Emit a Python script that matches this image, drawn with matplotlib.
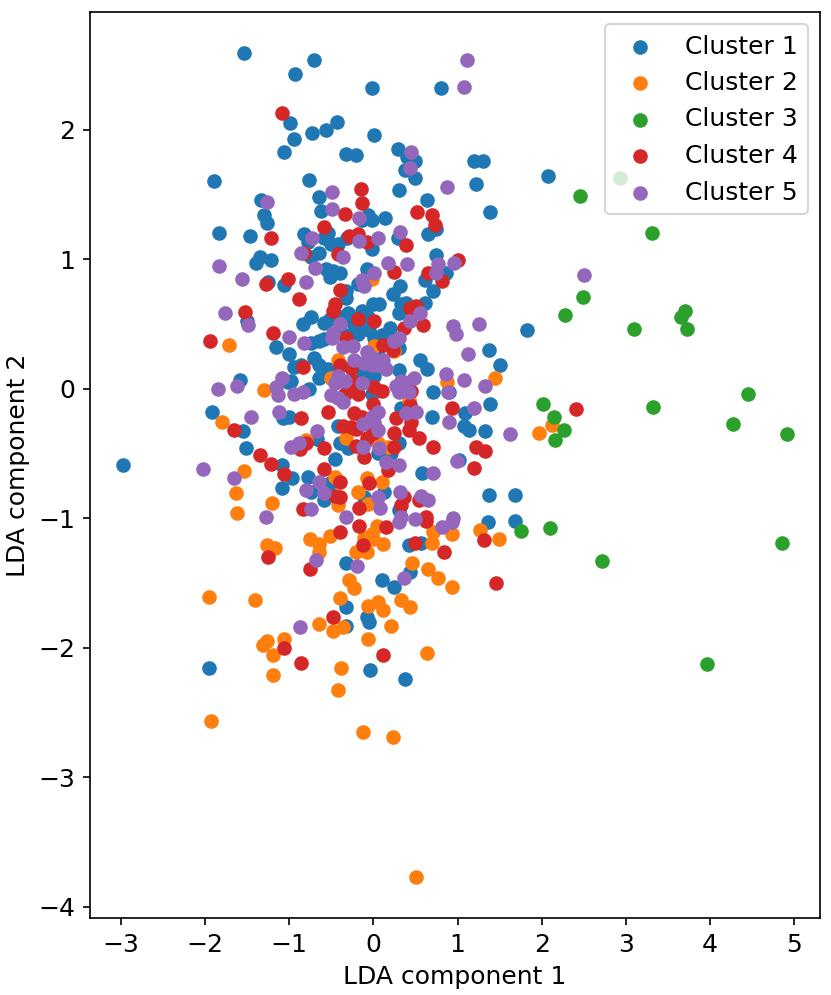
import matplotlib
matplotlib.use("Agg")
import matplotlib.pyplot as plt

# Puntos proyectados (LDA componente 1, LDA componente 2) por cluster
cluster1_x = [-2.97, -1.53, -0.93, -0.71, -0.01, 0.80, -1.89, -1.95, -1.91, 2.07, 1.82, 1.68, 1.36, 0.38, -0.04,
              -0.99, -0.43, -0.56, -0.73, -0.94, -1.06, -0.32, -0.76, -0.65, -1.33, 0.01, -0.21, 0.29, 0.40, 0.50,
              0.38, 0.50, 1.19, 1.30, 1.22, 0.30, 0.64, 1.38, -1.30, -1.26, -0.62, -1.83, -1.46, -0.82, -0.77,
              -0.54, -0.58, -0.50, -0.42, -0.31, -0.65, -0.74, -1.34, -1.39, -1.22, -0.56, -0.48, -0.40, -0.52,
              -1.25, -1.06, -0.32, -1.50, -0.83, -0.74, -0.59, -0.52, -0.42, -0.34, -0.74, -0.65, -0.58, -1.15,
              -1.00, -0.70, -0.06, -0.02, -0.14, 0.14, 0.74, 0.65, 0.29, -0.02, 0.74, 0.86, 0.61, 0.71, -0.08,
              -0.18, 0.32, 0.23, -0.32, 0.00, 0.07, 0.33, 0.39, 0.30, 0.61, -0.30, -0.14, -0.06, -0.24, -0.05,
              0.01, 0.10, 0.06, 1.37, 0.55, -0.26, -0.18, -0.36, -0.18, -0.86, -0.64, -0.65, -0.50, -0.98, -0.76,
              0.01, -0.06, -0.94, -0.54, -0.42, -1.58, -1.01, -1.55, -1.07, -1.00, -0.42, -0.67, -0.40, -0.30,
              -1.51, -0.45, -1.08, -0.96, -0.77, -0.51, -1.09, -0.74, -0.58, 0.31, 0.64, 1.51, 0.71, 0.90, 1.38,
              1.09, 0.70, 1.08, 1.14, 1.33, 1.02, 0.58, 1.37, 1.68, -0.12, -0.02, 0.33, 0.31, 0.21, -0.11, 0.13,
              0.30, 0.20, 0.25, 0.31, 0.01, -0.02, 0.06, 0.36, 0.42, 0.57, 0.43, 0.10, 0.25, -0.08, -0.05, -0.32,
              -0.32, -0.32]
cluster1_y = [-0.59, 2.59, 2.43, 2.54, 2.32, 2.32, 1.60, -2.16, -0.18, 1.64, 0.45, -1.02, -1.03, -2.24, -2.17,
              2.05, 2.06, 2.00, 1.97, 1.93, 1.83, 1.81, 1.61, 1.48, 1.46, 1.96, 1.80, 1.85, 1.79, 1.76,
              1.69, 1.63, 1.76, 1.76, 1.58, 1.53, 1.46, 1.36, 1.34, 1.28, 1.37, 1.20, 1.18, 1.19, 1.13,
              1.20, 1.16, 1.12, 1.12, 1.16, 1.05, 1.02, 1.02, 0.97, 0.99, 0.92, 0.91, 0.89, 0.86,
              0.82, 0.80, 0.70, 0.52, 0.50, 0.55, 0.51, 0.54, 0.55, 0.56, 0.35, 0.37, 0.38, 0.32,
              0.27, 0.24, 1.34, 1.30, 1.30, 1.32, 1.23, 1.19, 1.16, 1.08, 1.03, 0.89, 0.84, 0.75, 0.92,
              0.81, 0.79, 0.73, 0.75, 0.65, 0.65, 0.65, 0.66, 0.58, 0.66, 0.58, 0.60, 0.55, 0.43, 0.45,
              0.39, 0.41, 0.25, 0.30, 0.22, 0.52, 0.50, 0.42, 0.42, 0.18, 0.18, 0.08, 0.08, 0.06, 0.00,
              0.10, 0.14, 0.17, 0.15, 0.16, 0.07, 0.05, -0.33, -0.23, -0.22, -0.29, -0.39, -0.42, -0.46,
              -0.46, -0.54, -0.59, -0.69, -0.68, -0.73, -0.77, -0.80, -0.86, 0.14, 0.15, 0.18, -0.03, -0.03, -0.12,
              -0.19, -0.22, -0.29, -0.32, -0.33, -0.55, -0.65, -0.82, -0.82, 0.12, -0.04, -0.15, -0.42, -0.50, -0.84, -0.80,
              -0.94, 0.47, 0.32, 0.31, -0.35, -0.39, -0.50, -0.18, -1.21, -1.19, -1.42, -1.48, -1.53, -1.76, -1.80, -1.35,
              -1.69, -1.83]

cluster2_x = [-1.95, -1.93, -1.41, -1.71, -1.80, -0.12, 0.23, 0.51, -0.42, 0.64, -0.38, -0.42, -1.30, -0.50,
              -0.80, -0.32, -1.53, -0.45, -1.63, -0.42, -1.20, -1.62, -0.02, 0.01, 0.25, 0.42, 0.06, 0.18, -0.08,
              0.10, -0.18, -0.06, 1.44, 0.87, -0.75, -0.51, -0.64, -0.65, -1.26, -1.17, -0.29, -0.39, -0.64,
              -0.48, -0.36, -1.26, -1.31, -1.19, -1.06, -1.19, 0.04, -0.02, 0.00, 0.11, -0.11, -0.20, -0.08,
              0.70, 0.71, 0.94, 1.27, 1.49, 0.46, 0.65, 0.77, 0.94, -0.23, 0.33, 0.43, -0.06, 0.05, 0.12, 0.21,
              -0.06, 1.97, 2.12]
cluster2_y = [-1.61, -2.57, -1.63, 0.34, -0.26, -2.65, -2.69, -3.77, -2.33, -2.04, -2.16, 0.22, -0.01, 0.08,
              -0.40, -0.38, -0.64, -0.68, -0.81, -0.90, -0.88, -0.96, 0.85, 0.33, 0.29, -0.09, -0.42, -0.45, -0.69,
              -0.72, -0.80, -0.89, 0.08, 0.05, -1.16, -1.14, -1.20, -1.26, -1.21, -1.23, -1.48, -1.62, -1.82,
              -1.87, -1.84, -1.95, -1.98, -2.06, -1.93, -2.21, -1.06, -1.12, -1.16, -1.20, -1.15, -1.26, -1.26,
              -1.19, -1.11, -1.12, -1.09, -1.16, -1.35, -1.39, -1.46, -1.53, -1.54, -1.63, -1.69, -1.68, -1.65, -1.71, -1.83,
              -1.93, -0.34, -0.28]

cluster3_x = [2.46, 2.93, 3.31, 2.49, 2.28, 3.09, 3.70, 3.65, 3.72, 4.45, 4.91, 4.27, 3.32, 2.01, 2.14,
              2.26, 2.16, 2.10, 1.75, 2.72, 4.85, 3.96]
cluster3_y = [1.49, 1.63, 1.20, 0.71, 0.57, 0.46, 0.60, 0.55, 0.46, -0.04, -0.35, -0.27, -0.14, -0.12, -0.22,
              -0.32, -0.40, -1.08, -1.10, -1.33, -1.19, -2.13]

cluster4_x = [-1.09, -0.15, -0.14, -0.34, -0.59, -1.21, -0.29, -0.18, -0.82, -0.42, -1.01, -1.28, -0.40, -0.88,
              -0.46, -0.48, -1.52, -1.19, -0.32, -1.94, 0.52, 0.70, 0.73, 0.39, -0.08, 1.00, 0.24, 0.65, 0.82,
              0.44, 0.51, 0.59, 0.36, -0.18, 0.01, 0.11, 0.23, -0.40, -0.26, -0.24, -0.30, -0.18, 0.01, -0.84,
              -1.66, -0.86, -0.54, -0.36, -0.87, -0.58, -1.34, -1.21, -1.06, -0.58, -0.39, -0.46, -0.40, -0.84,
              -0.26, -0.34, -0.20, -0.23, -0.26, 0.10, 0.00, 0.45, 0.43, 0.27, 0.45, 0.42, -0.14, -0.20, 0.00,
              0.54, 0.71, 0.24, 0.25, -0.20, -0.11, 0.18, -0.05, -0.17, 0.36, 0.33, 0.63, 0.93, 1.22, 1.33, 1.20,
              -0.08, -0.80, 0.54, -0.39, -1.25, -0.75, -0.48, -1.06, -0.86, -0.17, 0.15, -0.12, 0.50, 0.84, 1.31,
              1.46, 0.62, 0.12, 2.41]
cluster4_y = [2.13, 1.54, 1.43, 1.35, 1.25, 1.16, 1.18, 1.19, 1.05, 1.04, 0.85, 0.81, 0.76, 0.69,
              0.65, 0.60, 0.59, 0.43, 0.39, 0.37, 1.36, 1.34, 1.26, 1.11, 1.13, 0.99, 0.90, 0.89, 0.83,
              0.62, 0.64, 0.49, 0.47, 0.54, 0.52, 0.34, 0.30, 0.18, 0.16, 0.06, -0.02, -0.04, 0.01, 0.17,
              -0.32, -0.23, -0.18, -0.29, -0.47, -0.46, -0.51, -0.58, -0.66, -0.62, -0.72, -0.83, -0.84, -0.93,
              0.04, -0.04, -0.02, -0.19, -0.30, -0.02, -0.12, -0.02, -0.13, -0.23, -0.26, -0.32, -0.22, -0.31, -0.34,
              -0.38, -0.45, -0.34, -0.45, -0.44, -0.53, -0.63, -0.73, -0.92, -0.84, -0.90, -0.99, -0.15, -0.45, -0.48, -0.61,
              -0.38, -0.42, -0.86, -1.11, -1.30, -1.39, -1.76, -2.00, -2.12, -1.06, -1.07, -1.21, -1.19, -1.26, -1.17,
              -1.50, -1.02, -2.06, -0.16]

cluster5_x = [1.11, 1.08, -0.49, -1.26, 0.45, 0.44, 0.87, -0.49, -1.83, -0.73, -0.86, -0.36, -0.69, -1.56,
              -0.80, -1.76, -1.49, -0.39, -1.00, -0.82, -0.48, -0.49, -0.36, -0.17, 0.32, -0.17, 0.05, 0.96,
              0.17, 0.40, 0.77, 0.74, 0.01, -0.13, -0.11, 0.56, 0.43, 0.24, 0.30, -0.24, -0.08, -0.02, 0.95,
              0.98, 1.25, 1.12, -0.23, -0.11, 0.01, -1.09, -1.15, -1.13, -0.94, -0.83, -0.42, -0.34, -0.46,
              -0.50, -0.14, -1.85, -1.62, -0.42, -0.36, -1.45, -1.12, -0.67, -0.98, -0.88, -2.02, -1.66, -0.80,
              -0.65, -0.58, -0.74, -1.28, -0.32, 0.12, 0.06, 1.33, 0.86, 1.08, 0.89, 1.19, 0.90, 1.62, 0.99,
              0.71, 0.57, 0.65, 0.95, 0.27, 0.37, 0.48, 0.31, 0.42, 0.51, 0.39, 0.06, -0.12, 0.01, 0.06, -0.12,
              0.07, 0.15, 0.30, 0.06, 0.32, 0.08, 0.33, -0.02, 0.15, 0.33, -0.02, 0.30, 0.49, 0.81, 0.94, -0.19,
              0.36, -0.68, -0.87, 2.50]
cluster5_y = [2.54, 2.33, 1.52, 1.44, 1.83, 1.70, 1.56, 1.39, 0.95, 1.16, 1.05, 1.02, 0.93, 0.85,
              0.82, 0.58, 0.49, 0.50, 0.40, 0.35, 0.43, 0.39, 0.32, 1.32, 1.21, 1.14, 1.16, 0.97,
              0.97, 0.96, 0.96, 0.89, 0.89, 0.84, 0.79, 0.58, 0.52, 0.37, 0.39, 0.33, 0.28, 0.24, 0.48,
              0.42, 0.50, 0.27, 0.22, 0.20, 0.22, 0.08, 0.01, -0.05, -0.04, -0.03, 0.10, 0.06, 0.04,
              -0.05, 0.04, 0.00, 0.02, -0.07, -0.10, -0.22, -0.18, -0.33, -0.45, -0.42, -0.62, -0.69, -0.78,
              -0.72, -0.81, -0.93, -0.99, -0.99, 0.22, 0.18, 0.02, 0.11, 0.07, -0.03, -0.15, -0.26, -0.35, -0.56,
              -0.65, -0.83, -0.86, -1.00, 0.02, 0.05, 0.08, -0.03, -0.03, -0.18, -0.19, -0.18, -0.27, -0.26, -0.32, -0.45,
              -0.46, -0.57, -0.59, -0.84, -0.80, -0.92, -0.99, 0.18, 0.15, 0.06, -0.22, -1.03, -1.01, -1.07, -1.03, -1.37,
              -1.46, -1.32, -1.84, 0.88]


def generar_grafico():
    plt.rcParams["font.size"] = 12
    fig = plt.figure(figsize=(831 / 150, 995 / 150), dpi=150)
    ax = fig.add_axes([90 / 831, 77 / 995, 730 / 831, 906 / 995])

    clusters = [
        (cluster1_x, cluster1_y),
        (cluster2_x, cluster2_y),
        (cluster3_x, cluster3_y),
        (cluster4_x, cluster4_y),
        (cluster5_x, cluster5_y),
    ]
    for i, (xs, ys) in enumerate(clusters):
        ax.scatter(xs, ys, label=f"Cluster {i + 1}")

    ax.set_xlabel("LDA component 1")
    ax.set_ylabel("LDA component 2")
    ax.legend(loc="upper right")

    fig.savefig("out.png", dpi=150)


if __name__ == "__main__":
    generar_grafico()
